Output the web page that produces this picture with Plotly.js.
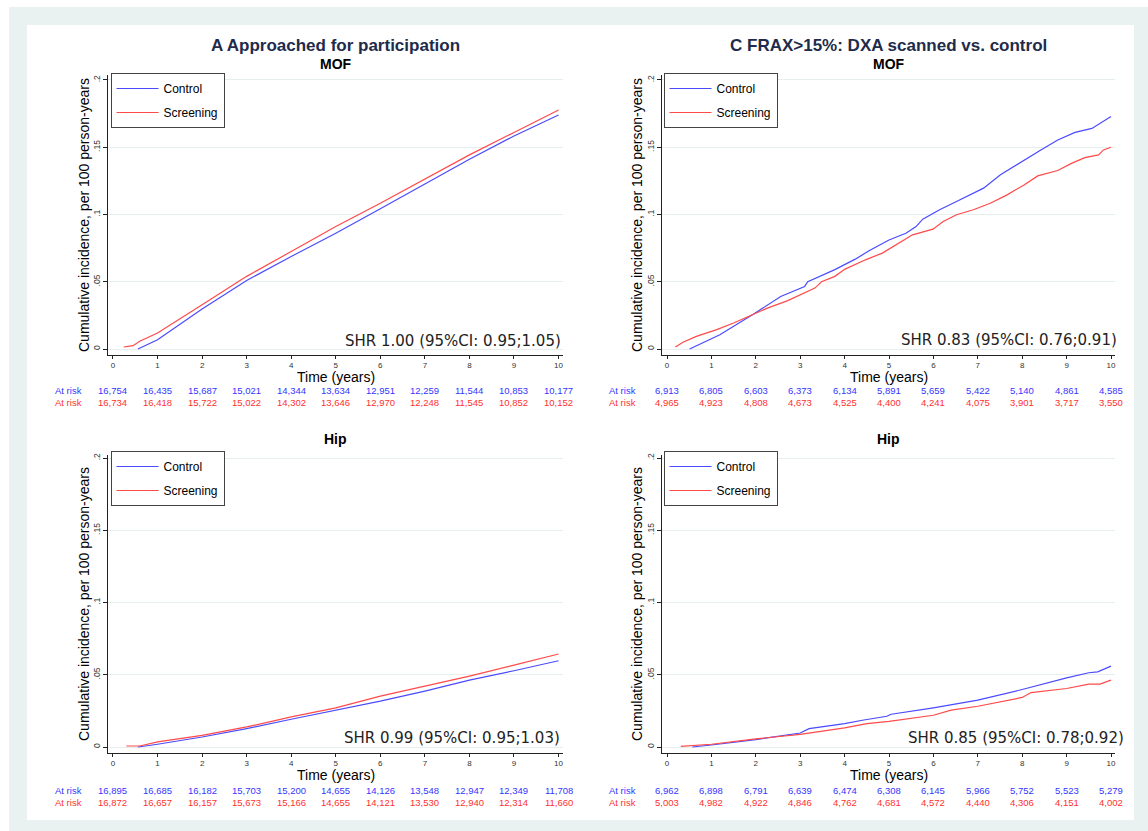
<!DOCTYPE html>
<html>
<head>
<meta charset="utf-8">
<script src="https://cdn.plot.ly/plotly-3.0.1.min.js"></script>
<style>html,body{margin:0;padding:0;background:#fff}#chart{width:1148px;height:831px}</style>
</head>
<body>
<div id="chart"></div>
<script>
// ---------- DATA ----------
const panelTitles = ["A Approached for participation", "C FRAX>15%: DXA scanned vs. control"];
const outcomeTitles = ["MOF", "MOF", "Hip", "Hip"];
const seriesNames = ["Control", "Screening"];
const xTitle = "Time (years)";
const yTitle = "Cumulative incidence, per 100 person-years";
const shrTexts = ["SHR 1.00 (95%CI: 0.95;1.05)", "SHR 0.83 (95%CI: 0.76;0.91)",
                  "SHR 0.99 (95%CI: 0.95;1.03)", "SHR 0.85 (95%CI: 0.78;0.92)"];
const riskYears = [0,1,2,3,4,5,6,7,8,9,10];
const yTickVals = [0, 0.05, 0.1, 0.15, 0.2];
const yTickText = ["0", ".05", ".1", ".15", ".2"];
const xTickVals = [0,1,2,3,4,5,6,7,8,9,10];

// Panel A, MOF
const aMofCtrlT = [0.56,1,2,3,4,5,6,7,8,9,10];
const aMofCtrlY = [0,0.0069,0.0297,0.051,0.0688,0.0861,0.1042,0.1228,0.1411,0.1584,0.174];
const aMofScrT  = [0.24,0.45,0.6,1,2,3,4,5,6,7,8,9,10];
const aMofScrY  = [0.0015,0.0025,0.0057,0.0119,0.0329,0.054,0.0725,0.091,0.1084,0.1265,0.1443,0.161,0.1777];
// Panel C, MOF
const cMofCtrlT = [0.51,1.19,1.96,2.56,3.1,3.17,3.78,4.24,4.55,5.0,5.38,5.61,5.76,6.14,6.52,6.9,7.13,7.51,8.04,8.42,8.8,9.19,9.57,10];
const cMofCtrlY = [0,0.0106,0.0262,0.039,0.0465,0.05,0.059,0.0668,0.073,0.081,0.086,0.091,0.0965,0.1035,0.1097,0.1158,0.1196,0.1295,0.1406,0.148,0.1554,0.161,0.164,0.1728];
const cMofScrT  = [0.19,0.36,0.66,1.12,1.5,1.96,2.26,2.72,3.33,3.48,3.78,4.01,4.47,4.85,5.23,5.53,5.99,6.22,6.52,6.9,7.28,7.66,8.04,8.35,8.8,9.11,9.41,9.72,9.83,10];
const cMofScrY  = [0.0015,0.005,0.0094,0.0144,0.0193,0.0262,0.0304,0.036,0.0453,0.05,0.054,0.0594,0.0663,0.0713,0.0792,0.0849,0.0891,0.0948,0.0998,0.1035,0.1084,0.1146,0.122,0.1287,0.1327,0.138,0.1423,0.1443,0.148,0.15];
// Panel A, Hip
const aHipCtrlT = [0.56,1,2,3,4,5,6,7,8,9,10];
const aHipCtrlY = [0,0.0019,0.0069,0.0127,0.0192,0.0255,0.0317,0.0387,0.0463,0.0528,0.0597];
const aHipScrT  = [0.3,0.6,1,2,3,4,5,6,7,8,9,10];
const aHipScrY  = [0.0007,0.0007,0.0035,0.0081,0.0139,0.0208,0.0271,0.0352,0.0421,0.0491,0.0567,0.0644];
// Panel C, Hip
const cHipCtrlT = [0.57,0.93,1,2,3,3.2,4,4.4,4.95,5.05,6,7,8,9,9.5,9.7,10];
const cHipCtrlY = [0,0.001,0.0014,0.0051,0.0097,0.0127,0.0162,0.0185,0.0213,0.0227,0.0271,0.0324,0.0398,0.0479,0.0514,0.052,0.056];
const cHipScrT  = [0.31,1,2,3,4,4.5,5,6,6.4,7,8,8.2,9,9.5,9.75,10];
const cHipScrY  = [0.0005,0.0019,0.0056,0.0088,0.0132,0.0162,0.0178,0.022,0.0255,0.0282,0.0343,0.0377,0.0405,0.0435,0.0435,0.0463];

// Numbers at risk
const aMofRiskCtrl = [16754,16435,15687,15021,14344,13634,12951,12259,11544,10853,10177];
const aMofRiskScr  = [16734,16418,15722,15022,14302,13646,12970,12248,11545,10852,10152];
const cMofRiskCtrl = [6913,6805,6603,6373,6134,5891,5659,5422,5140,4861,4585];
const cMofRiskScr  = [4965,4923,4808,4673,4525,4400,4241,4075,3901,3717,3550];
const aHipRiskCtrl = [16895,16685,16182,15703,15200,14655,14126,13548,12947,12349,11708];
const aHipRiskScr  = [16872,16657,16157,15673,15166,14655,14121,13530,12940,12314,11660];
const cHipRiskCtrl = [6962,6898,6791,6639,6474,6308,6145,5966,5752,5523,5279];
const cHipRiskScr  = [5003,4982,4922,4846,4762,4681,4572,4440,4306,4151,4002];

// ---------- STYLE / LAYOUT ----------
const W = 1148, H = 831;
const px = x => x / W;
const py = y => 1 - y / H;
const BLUE = '#4a4aff', RED = '#ff4a4a';
const BLUE_T = '#3535ff', RED_T = '#ff3030';
const ARIAL = 'Liberation Sans, Arial, sans-serif';
const DEJAVU = 'DejaVu Sans, Verdana, sans-serif';

const panels = [
  {ct: aMofCtrlT, cy: aMofCtrlY, st: aMofScrT, sy: aMofScrY, rc: aMofRiskCtrl, rs: aMofRiskScr,
   xd: [108, 563], yd: [355, 75], xr: [-0.112, 10.10], yr: [-0.00446, 0.2037],
   atX: 68.5, rowY: [390, 402], subY: 64, shr: [563, 341], leg: [110.5, 73], xtY: 377, ytX: 84},
  {ct: cMofCtrlT, cy: cMofCtrlY, st: cMofScrT, sy: cMofScrY, rc: cMofRiskCtrl, rs: cMofRiskScr,
   xd: [662, 1115], yd: [355, 75], xr: [-0.113, 10.09], yr: [-0.00446, 0.2037],
   atX: 622, rowY: [390, 402], subY: 64, shr: [1119, 340], leg: [663.5, 73], xtY: 377, ytX: 637},
  {ct: aHipCtrlT, cy: aHipCtrlY, st: aHipScrT, sy: aHipScrY, rc: aHipRiskCtrl, rs: aHipRiskScr,
   xd: [108, 563], yd: [753, 455], xr: [-0.112, 10.10], yr: [-0.00415, 0.2021],
   atX: 68.5, rowY: [790, 802], subY: 439, shr: [562, 738], leg: [110.5, 451], xtY: 775, ytX: 84},
  {ct: cHipCtrlT, cy: cHipCtrlY, st: cHipScrT, sy: cHipScrY, rc: cHipRiskCtrl, rs: cHipRiskScr,
   xd: [662, 1115], yd: [753, 455], xr: [-0.113, 10.09], yr: [-0.00415, 0.2021],
   atX: 622, rowY: [790, 802], subY: 439, shr: [1126, 738], leg: [663.5, 451], xtY: 775, ytX: 637}
];

const fmt = n => String(n).replace(/\B(?=(\d{3})+(?!\d))/g, ',');

const data = [];
const layout = {
  width: W, height: H,
  margin: {l: 0, r: 0, t: 0, b: 0},
  paper_bgcolor: '#ffffff',
  plot_bgcolor: '#ffffff',
  showlegend: true,
  font: {family: ARIAL, color: '#000'},
  shapes: [
    {type: 'rect', xref: 'paper', yref: 'paper', x0: px(9), x1: 1, y0: 0, y1: py(7),
     fillcolor: '#e9f1f1', line: {width: 0}, layer: 'below'},
    {type: 'rect', xref: 'paper', yref: 'paper', x0: px(27), x1: px(1134), y0: py(820), y1: py(25),
     fillcolor: '#ffffff', line: {width: 0}, layer: 'below'}
  ],
  annotations: []
};

// main column titles
[[335, panelTitles[0]], [888.5, panelTitles[1]]].forEach(([cx, txt]) => {
  layout.annotations.push({xref: 'paper', yref: 'paper', x: px(cx), y: py(46), xanchor: 'center', yanchor: 'middle',
    text: '<b>' + txt + '</b>', showarrow: false, font: {family: ARIAL, size: 17, color: '#1e2b4b'}});
});

panels.forEach((p, i) => {
  const k = i === 0 ? '' : String(i + 1);
  const xa = 'x' + k, ya = 'y' + k;
  const leg = 'legend' + k;
  layout['xaxis' + k] = {
    domain: [px(p.xd[0]), px(p.xd[1])], range: p.xr, anchor: ya,
    showline: true, linecolor: '#222', linewidth: 1, mirror: false,
    ticks: 'outside', ticklen: 3, tickcolor: '#222', tickwidth: 1, ticklabelstandoff: -1,
    tickvals: xTickVals, tickfont: {family: ARIAL, size: 8, color: '#333'},
    showgrid: false, zeroline: false, fixedrange: true
  };
  layout['yaxis' + k] = {
    domain: [py(p.yd[0]), py(p.yd[1])], range: p.yr, anchor: xa,
    showline: true, linecolor: '#222', linewidth: 1, mirror: false,
    ticks: 'outside', ticklen: 4, tickcolor: '#222', tickwidth: 1,
    tickvals: yTickVals, ticktext: yTickText, tickangle: -90,
    tickfont: {family: ARIAL, size: 8.5, color: '#333'},
    showgrid: true, gridcolor: '#e6eeee', gridwidth: 1, zeroline: false, fixedrange: true
  };
  layout[leg] = {
    x: px(p.leg[0]), y: py(p.leg[1]), xanchor: 'left', yanchor: 'top',
    bgcolor: '#ffffff', bordercolor: '#444', borderwidth: 1,
    font: {family: ARIAL, size: 12, color: '#000'},
    itemwidth: 42, traceorder: 'grouped', tracegroupgap: 5
  };
  data.push({x: p.ct, y: p.cy, type: 'scatter', mode: 'lines', name: seriesNames[0],
    xaxis: xa, yaxis: ya, legend: leg, legendgroup: 'c' + i,
    line: {color: BLUE, width: 1.2}, hoverinfo: 'skip'});
  data.push({x: p.st, y: p.sy, type: 'scatter', mode: 'lines', name: seriesNames[1],
    xaxis: xa, yaxis: ya, legend: leg, legendgroup: 's' + i,
    line: {color: RED, width: 1.2}, hoverinfo: 'skip'});

  // axis titles
  layout.annotations.push({xref: 'paper', yref: 'paper', x: px((p.xd[0] + p.xd[1]) / 2), y: py(p.xtY),
    xanchor: 'center', yanchor: 'middle', text: xTitle, showarrow: false,
    font: {family: ARIAL, size: 14, color: '#000'}});
  layout.annotations.push({xref: 'paper', yref: 'paper', x: px(p.ytX), y: py((p.yd[0] + p.yd[1]) / 2),
    xanchor: 'center', yanchor: 'middle', text: yTitle, textangle: -90, showarrow: false,
    font: {family: ARIAL, size: 14, color: '#000'}});
  // subplot title
  layout.annotations.push({xref: 'paper', yref: 'paper', x: px((p.xd[0] + p.xd[1]) / 2), y: py(p.subY),
    xanchor: 'center', yanchor: 'middle', text: '<b>' + outcomeTitles[i] + '</b>', showarrow: false,
    font: {family: ARIAL, size: 14, color: '#000'}});
  // SHR
  layout.annotations.push({xref: 'paper', yref: 'paper', x: px(p.shr[0]), y: py(p.shr[1]),
    xanchor: 'right', yanchor: 'middle', text: shrTexts[i], showarrow: false,
    font: {family: DEJAVU, size: 15, color: '#222'}});
  // at risk rows
  [[p.rc, BLUE_T, p.rowY[0]], [p.rs, RED_T, p.rowY[1]]].forEach(([vals, col, ry]) => {
    layout.annotations.push({xref: 'paper', yref: 'paper', x: px(p.atX), y: py(ry), xanchor: 'center', yanchor: 'middle',
      text: 'At risk', showarrow: false, font: {family: ARIAL, size: 9.5, color: col}});
    vals.forEach((v, j) => {
      layout.annotations.push({xref: xa, yref: 'paper', x: riskYears[j], y: py(ry), xanchor: 'center', yanchor: 'middle',
        text: fmt(v), showarrow: false, font: {family: ARIAL, size: 9.5, color: col}});
    });
  });
});

Plotly.newPlot('chart', data, layout, {displayModeBar: false, staticPlot: true});
</script>
</body>
</html>
